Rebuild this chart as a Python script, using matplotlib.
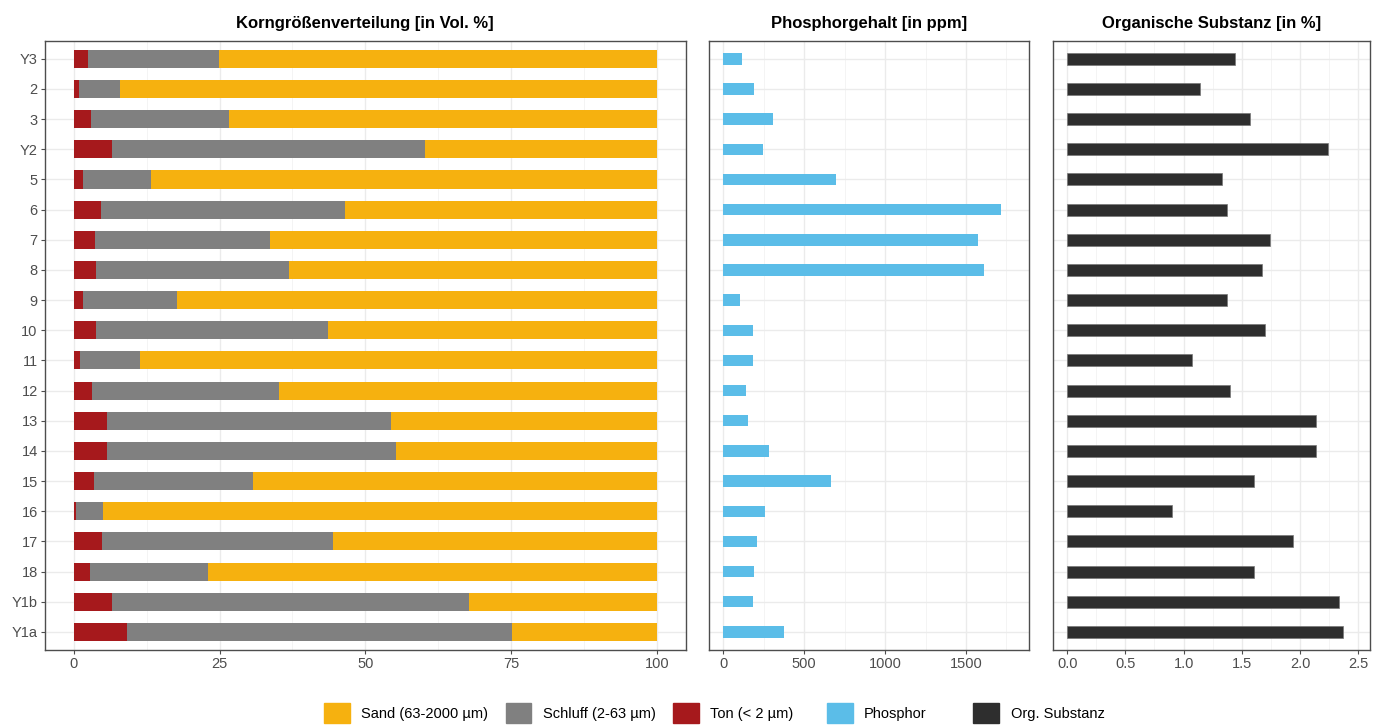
import matplotlib.pyplot as plt
from matplotlib.patches import Patch
from matplotlib.ticker import MultipleLocator

plt.rcParams["font.family"] = ["Liberation Sans Narrow", "Liberation Sans", "DejaVu Sans"]

samples = ["Y3", "2", "3", "Y2", "5", "6", "7", "8", "9", "10",
           "11", "12", "13", "14", "15", "16", "17", "18", "Y1b", "Y1a"]

# grain size fractions in Vol. %
ton = [2.5, 0.9, 2.9, 6.5, 1.5, 4.6, 3.6, 3.9, 1.5, 3.8,
       1.1, 3.2, 5.7, 5.7, 3.5, 0.3, 4.8, 2.8, 6.5, 9.2]
schluff = [22.4, 7.1, 23.8, 53.7, 11.8, 41.9, 30.0, 33.1, 16.2, 39.8,
           10.3, 32.0, 48.7, 49.5, 27.2, 4.7, 39.6, 20.2, 61.2, 65.9]
sand = [75.1, 92.0, 73.3, 39.8, 86.7, 53.5, 66.4, 63.0, 82.3, 56.4,
        88.6, 64.8, 45.6, 44.8, 69.3, 95.0, 55.6, 77.0, 32.3, 24.9]

# phosphorus in ppm
phosphor = [118, 188, 304, 242, 697, 1715, 1575, 1613, 102, 183,
            183, 140, 151, 283, 668, 256, 207, 191, 183, 372]

# organic matter in %
org = [1.44, 1.14, 1.57, 2.24, 1.33, 1.37, 1.74, 1.67, 1.37, 1.70,
       1.07, 1.40, 2.14, 2.14, 1.60, 0.90, 1.94, 1.60, 2.33, 2.37]

c_sand = "#F6B10F"
c_schluff = "#808080"
c_ton = "#A6191C"
c_phos = "#5BBDE8"
c_org = "#2E2E2E"

W, H = 1373, 725
fig = plt.figure(figsize=(W / 100, H / 100), dpi=100)


def panel(x0, x1):
    ax = fig.add_axes([x0 / W, 1 - 650 / H, (x1 - x0) / W, (650 - 40.7) / H])
    ax.set_ylim(len(samples) - 0.4, -0.6)
    ax.set_axisbelow(True)
    ax.grid(which="major", color="#EBEBEB", lw=1.0)
    ax.grid(which="minor", axis="x", color="#F3F3F3", lw=0.6)
    for s in ax.spines.values():
        s.set_color("#4D4D4D")
        s.set_linewidth(1.0)
    ax.tick_params(axis="both", which="major", length=3, color="#4D4D4D",
                   labelcolor="#4D4D4D", labelsize=10.5, pad=2)
    ax.tick_params(which="minor", length=0)
    return ax


ypos = list(range(len(samples)))

# grain size distribution
ax1 = panel(44.6, 686)
left_schluff = ton
left_sand = [a + b for a, b in zip(ton, schluff)]
ax1.barh(ypos, ton, height=0.6, color=c_ton)
ax1.barh(ypos, schluff, left=left_schluff, height=0.6, color=c_schluff)
ax1.barh(ypos, sand, left=left_sand, height=0.6, color=c_sand)
ax1.set_xlim(-5, 105)
ax1.xaxis.set_major_locator(MultipleLocator(25))
ax1.xaxis.set_minor_locator(MultipleLocator(12.5))
ax1.set_yticks(ypos)
ax1.set_yticklabels(samples)
ax1.set_title("Korngrößenverteilung [in Vol. %]", fontsize=12, fontweight="bold", pad=9)

# phosphorus
ax2 = panel(708.7, 1029)
ax2.barh(ypos, phosphor, height=0.38, color=c_phos)
ax2.set_xlim(-91, 1890)
ax2.xaxis.set_major_locator(MultipleLocator(500))
ax2.xaxis.set_minor_locator(MultipleLocator(250))
ax2.set_yticks(ypos)
ax2.set_yticklabels([])
ax2.tick_params(axis="y", length=0)
ax2.set_title("Phosphorgehalt [in ppm]", fontsize=12, fontweight="bold", pad=9)

# organic matter
ax3 = panel(1052.8, 1370)
ax3.barh(ypos, org, height=0.4, color=c_org, edgecolor="#777777", lw=0.5)
ax3.set_xlim(-0.123, 2.6)
ax3.xaxis.set_major_locator(MultipleLocator(0.5))
ax3.xaxis.set_minor_locator(MultipleLocator(0.25))
ax3.xaxis.set_major_formatter(lambda v, p: f"{v:.1f}")
ax3.set_yticks(ypos)
ax3.set_yticklabels([])
ax3.tick_params(axis="y", length=0)
ax3.set_title("Organische Substanz [in %]", fontsize=12, fontweight="bold", pad=9)

# legends along the bottom
leg_kw = dict(frameon=False, fontsize=10.5, handlelength=1.75, handleheight=1.75,
              handletextpad=0.8, columnspacing=1.2, borderpad=0, borderaxespad=0)
h1 = [Patch(color=c_sand, label="Sand (63-2000 µm)"),
      Patch(color=c_schluff, label="Schluff (2-63 µm)"),
      Patch(color=c_ton, label="Ton (< 2 µm)")]
h2 = [Patch(color=c_phos, label="Phosphor"),
      Patch(color=c_org, label="Org. Substanz")]
fig.legend(handles=h1, ncol=3, loc="center left",
           bbox_to_anchor=(324 / W, 1 - 713 / H), **leg_kw)
fig.legend(handles=h2, ncol=2, loc="center left",
           bbox_to_anchor=(827 / W, 1 - 713 / H), **dict(leg_kw, columnspacing=3.2))

fig.savefig("out.png", dpi=100)
